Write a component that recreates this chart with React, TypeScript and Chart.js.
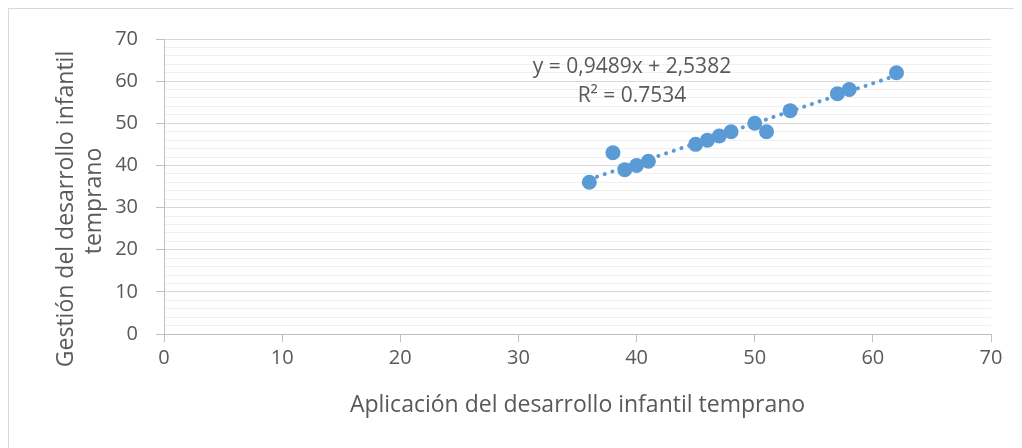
import React, { useEffect, useRef } from "react";
import { Chart, registerables } from "chart.js";

Chart.register(...registerables);

const xValues = [36, 38, 39, 40, 41, 45, 46, 47, 48, 50, 51, 53, 57, 58, 62];
const yValues = [36, 43, 39, 40, 41, 45, 46, 47, 48, 50, 48, 53, 57, 58, 62];
const trendX = [36, 62];
const trendY = [36.7, 61.37];
const axisMin = 0;
const axisMax = 70;
const xTitle = "Aplicación del desarrollo infantil temprano";
const yTitle = ["Gestión del desarrollo infantil", "temprano"];
const equationLines = ["y = 0,9489x + 2,5382", "R² = 0.7534"];

const FONT = '"Open Sans", "DejaVu Sans", sans-serif';
const TEXT = "#595959";
const BLUE = "#5b9bd5";

const textPlugin = {
  id: "texts",
  afterDraw(chart: any) {
    const ctx = chart.ctx as CanvasRenderingContext2D;
    const ca = chart.chartArea;
    ctx.save();
    ctx.fillStyle = TEXT;
    ctx.textAlign = "center";
    ctx.textBaseline = "middle";
    ctx.font = `23px ${FONT}`;
    ctx.fillText(xTitle, (ca.left + ca.right) / 2, 396);
    ctx.font = `21px ${FONT}`;
    ctx.fillText(equationLines[0], 623, 58);
    ctx.fillText(equationLines[1], 623, 87);
    ctx.font = `23px ${FONT}`;
    ctx.translate(57, 200);
    ctx.rotate(-Math.PI / 2);
    ctx.fillText(yTitle[0], 0, 0);
    ctx.fillText(yTitle[1], 8, 28);
    ctx.restore();
  },
};

export default function App() {
  const ref = useRef<HTMLCanvasElement | null>(null);
  useEffect(() => {
    if (!ref.current) return;
    const points = xValues.map((x, i) => ({ x, y: yValues[i] }));
    const trend = trendX.map((x, i) => ({ x, y: trendY[i] }));
    const chart = new Chart(ref.current, {
      type: "scatter",
      data: {
        datasets: [
          {
            data: points,
            backgroundColor: BLUE,
            borderColor: BLUE,
            pointRadius: 7.5,
            pointBorderWidth: 0,
          },
          {
            data: trend,
            showLine: true,
            borderColor: BLUE,
            borderWidth: 4,
            borderDash: [0.1, 8],
            borderCapStyle: "round",
            pointRadius: 0,
            fill: false,
          } as any,
        ],
      },
      options: {
        animation: false,
        responsive: false,
        events: [],
        layout: { padding: { top: 29, right: 31, left: 0, bottom: 0 } },
        plugins: { legend: { display: false }, tooltip: { enabled: false } },
        scales: {
          x: {
            type: "linear",
            min: axisMin,
            max: axisMax,
            afterFit: (s: any) => {
              s.height = 114;
            },
            ticks: {
              stepSize: 10,
              color: TEXT,
              font: { family: FONT, size: 20 },
              padding: 4,
              maxRotation: 0,
            },
            grid: {
              drawOnChartArea: false,
              drawTicks: true,
              tickLength: 8,
              color: "#bfbfbf",
            },
            border: { display: true, color: "#bfbfbf" },
          },
          y: {
            type: "linear",
            min: axisMin,
            max: axisMax,
            afterFit: (s: any) => {
              s.width = 155;
            },
            ticks: {
              stepSize: 2,
              autoSkip: false,
              color: TEXT,
              font: { family: FONT, size: 20 },
              padding: 18,
              callback: (v: any) => (Number(v) % 10 === 0 ? String(v) : ""),
            },
            grid: {
              tickLength: 8,
              color: (c: any) => (c.tick && c.tick.value % 10 === 0 ? "#d9d9d9" : "#f0f0f0"),
              tickColor: (c: any) => (c.tick && c.tick.value % 10 === 0 ? "#bfbfbf" : "rgba(0,0,0,0)"),
            },
            border: { display: true, color: "#bfbfbf" },
          },
        },
      },
      plugins: [textPlugin],
    });
    return () => chart.destroy();
  }, []);
  return (
    <div style={{ width: 1014, height: 440, borderLeft: "1px solid #d9d9d9", borderTop: "1px solid #d9d9d9", boxSizing: "border-box", overflow: "hidden" }}>
      <canvas ref={ref} width={1013} height={439} style={{ display: "block", width: 1013, height: 439 }} />
    </div>
  );
}
